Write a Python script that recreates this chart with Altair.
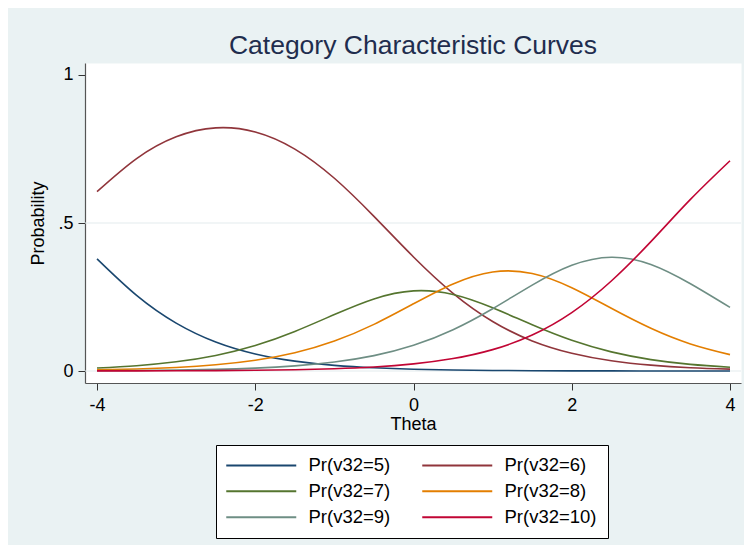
import altair as alt
import pandas as pd

# ---- data ----
theta = [-4.0, -3.5, -3.0, -2.5, -2.0, -1.5, -1.0, -0.5, 0.0,
         0.5, 1.0, 1.5, 2.0, 2.5, 3.0, 3.5, 4.0]

p5 = [0.3788, 0.2555, 0.1619, 0.0980, 0.0576, 0.0333, 0.0190, 0.0108, 0.0061,
      0.0034, 0.0019, 0.0011, 0.0006, 0.0003, 0.0002, 0.0001, 0.0001]
p6 = [0.6058, 0.7175, 0.7911, 0.8213, 0.8075, 0.7497, 0.6511, 0.5225, 0.3853,
      0.2623, 0.1673, 0.1017, 0.0600, 0.0347, 0.0198, 0.0112, 0.0064]
p7 = [0.0103, 0.0180, 0.0311, 0.0527, 0.0862, 0.1337, 0.1908, 0.2436, 0.2707,
      0.2587, 0.2137, 0.1560, 0.1036, 0.0646, 0.0386, 0.0225, 0.0129]
p8 = [0.0039, 0.0068, 0.0120, 0.0210, 0.0363, 0.0616, 0.1011, 0.1575, 0.2270,
      0.2941, 0.3345, 0.3294, 0.2814, 0.2118, 0.1443, 0.0915, 0.0553]
p9 = [0.0010, 0.0018, 0.0032, 0.0056, 0.0099, 0.0174, 0.0303, 0.0519, 0.0868,
      0.1395, 0.2104, 0.2903, 0.3571, 0.3845, 0.3600, 0.2949, 0.2150]
p10 = [0.0003, 0.0004, 0.0008, 0.0014, 0.0025, 0.0044, 0.0078, 0.0137, 0.0241,
       0.0420, 0.0722, 0.1215, 0.1973, 0.3041, 0.4371, 0.5798, 0.7104]

series_names = ["Pr(v32=5)", "Pr(v32=6)", "Pr(v32=7)",
                "Pr(v32=8)", "Pr(v32=9)", "Pr(v32=10)"]
series_values = [p5, p6, p7, p8, p9, p10]
series_colors = ["#1A476F", "#90353B", "#55752F", "#E37E00", "#6E8E84", "#C10534"]

x_ticks = [-4, -2, 0, 2, 4]
y_ticks = [0, 0.5, 1]
grid_y = [0, 0.5]

rows = []
for i, (name, vals) in enumerate(zip(series_names, series_values)):
    for t, v in zip(theta, vals):
        rows.append({"theta": t, "p": v, "series": name, "order": i})
df = pd.DataFrame(rows)
grid_df = pd.DataFrame({"g": grid_y})

FONT = "Liberation Sans"

x_scale = alt.Scale(domain=[-4.152, 4.139], nice=False, zero=False)
y_scale = alt.Scale(domain=[-0.0405, 1.0405], nice=False, zero=False)

grid = alt.Chart(grid_df).mark_rule(color="#E3EBEE", strokeWidth=1.2).encode(
    y=alt.Y("g:Q", scale=y_scale)
)

lines = alt.Chart(df).mark_line(interpolate="natural", strokeWidth=1.6).encode(
    x=alt.X("theta:Q", scale=x_scale,
            axis=alt.Axis(values=x_ticks, title="Theta",
                          labelExpr="toString(datum.value)",
                          tickSize=7, labelPadding=6, titlePadding=1,
                          grid=False)),
    y=alt.Y("p:Q", scale=y_scale,
            axis=alt.Axis(values=y_ticks, title="Probability",
                          labelExpr="datum.value == 0.5 ? '.5' : toString(datum.value)",
                          labelAngle=0, tickSize=7, labelPadding=5,
                          titlePadding=10, grid=False)),
    color=alt.Color("series:N",
                    scale=alt.Scale(domain=series_names, range=series_colors),
                    legend=alt.Legend(title=None, orient="none",
                                      legendX=131, legendY=382,
                                      columns=2, direction="horizontal",
                                      symbolType="M-1.4286,0H8.5714",
                                      symbolSize=196, symbolStrokeWidth=2,
                                      labelFontSize=18.5, labelFont=FONT,
                                      labelColor="#000000", labelOffset=63,
                                      fillColor="#FFFFFF", strokeColor="#000000",
                                      padding=11, columnPadding=27, rowPadding=7,
                                      labelLimit=300)),
    order=alt.Order("order:Q"),
)

chart = alt.layer(grid, lines).properties(
    width=656,
    height=320,
    padding={"left": 77, "top": 55, "right": 3, "bottom": 162},
    autosize=alt.AutoSizeParams(type="none"),
    background="#EAF2F3",
    title=alt.TitleParams("Category Characteristic Curves", fontSize=26.5,
                          font=FONT, fontWeight="normal", color="#1F2D4E",
                          anchor="middle", offset=4),
).configure_view(
    fill="#FFFFFF", stroke="transparent"
).configure_axis(
    labelFont=FONT, titleFont=FONT, labelFontSize=18, titleFontSize=18,
    titleFontWeight="normal", labelColor="#000000", titleColor="#000000",
    domainColor="#555555", tickColor="#333333", domainWidth=1.2, tickWidth=1,
)

chart.save("out.html", embed_options={"renderer": "svg", "actions": False})
